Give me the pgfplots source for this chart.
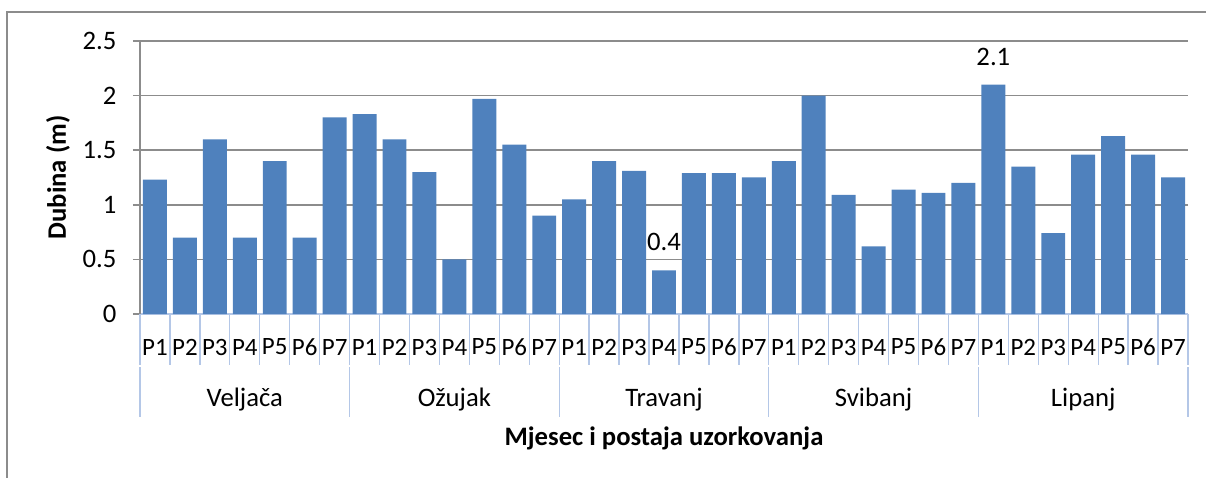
\documentclass[border=0pt]{standalone}
\usepackage{fontspec}
\setmainfont{Carlito}
\usepackage{pgfplots}
\pgfplotsset{compat=1.18}
\definecolor{barblue}{HTML}{4F81BD}
\definecolor{gridgray}{HTML}{8C8C8C}
\definecolor{sepblue}{HTML}{B4C7E7}
\newcommand{\cf}{\fontsize{20}{24}\selectfont}
\newcommand{\pf}{\fontsize{18.7}{22}\selectfont}
\begin{document}
\begin{tikzpicture}
\path[use as bounding box] (-105pt,-123pt) rectangle (799.5pt,235.5pt);
\draw[color=gray!90, line width=0.9pt] (-99.75pt,-124pt) -- (-99.75pt,226.5pt) -- (801pt,226.5pt);
\begin{axis}[
  at={(0pt,0pt)}, anchor=south west,
  scale only axis, width=786pt, height=204.75pt,
  xmin=0, xmax=35, ymin=0, ymax=2.5,
  enlargelimits=false, clip=false,
  ytick={0,0.5,1,1.5,2,2.5},
  yticklabels={0,0.5,1,1.5,2,2.5},
  xtick={0.5,1.5,...,34.5},
  xticklabels={P1,P2,P3,P4,P5,P6,P7,P1,P2,P3,P4,P5,P6,P7,P1,P2,P3,P4,P5,P6,P7,P1,P2,P3,P4,P5,P6,P7,P1,P2,P3,P4,P5,P6,P7},
  ymajorgrids, grid style={gridgray, line width=1.1pt},
  axis x line*=bottom, axis y line*=left,
  x axis line style={sepblue, line width=1.1pt, -},
  y axis line style={gridgray, line width=1.1pt, -},
  xtick style={draw=none},
  ytick style={gridgray, line width=1.1pt},
  tick align=outside, major tick length=5.25pt,
  tick label style={font=\cf},
  xticklabel style={anchor=center, yshift=-19.5pt, font=\pf},
  yticklabel style={anchor=east, xshift=-9pt},
  xlabel={Mjesec i postaja uzorkovanja},
  ylabel={Dubina (m)},
  every axis x label/.style={at={(axis description cs:0.5,0)}, anchor=center, yshift=-93pt, font=\cf\bfseries},
  every axis y label/.style={at={(axis description cs:-0.0782,0.5)}, rotate=90, anchor=center, font=\cf\bfseries},
]
\addplot[ybar, bar width=0.8, bar shift=0pt, fill=barblue, draw=none] coordinates {
(0.5,1.23) (1.5,0.70) (2.5,1.60) (3.5,0.70) (4.5,1.40) (5.5,0.70) (6.5,1.80)
(7.5,1.83) (8.5,1.60) (9.5,1.30) (10.5,0.50) (11.5,1.97) (12.5,1.55) (13.5,0.90)
(14.5,1.05) (15.5,1.40) (16.5,1.31) (17.5,0.40) (18.5,1.29) (19.5,1.29) (20.5,1.25)
(21.5,1.40) (22.5,2.00) (23.5,1.09) (24.5,0.62) (25.5,1.14) (26.5,1.11) (27.5,1.20)
(28.5,2.10) (29.5,1.35) (30.5,0.74) (31.5,1.46) (32.5,1.63) (33.5,1.46) (34.5,1.25)
};
\addplot[draw=none, mark=none, nodes near coords, point meta=explicit symbolic,
  nodes near coords style={font=\cf, anchor=center, yshift=21pt}]
  coordinates {(17.5,0.4) [0.4] (28.5,2.1) [2.1]};
\pgfplotsinvokeforeach{0,...,35}{\draw[sepblue, line width=1pt] (axis cs:#1,0) -- ++(0pt,-38.25pt);}
\pgfplotsinvokeforeach{0,7,14,21,28,35}{\draw[sepblue, line width=1pt] (axis cs:#1,0) ++(0pt,-39.75pt) -- ++(0pt,-37.5pt);}
\node[font=\cf] at (axis cs:3.5,0) [yshift=-64.5pt] {Veljača};
\node[font=\cf] at (axis cs:10.5,0) [yshift=-64.5pt] {Ožujak};
\node[font=\cf] at (axis cs:17.5,0) [yshift=-64.5pt] {Travanj};
\node[font=\cf] at (axis cs:24.5,0) [yshift=-64.5pt] {Svibanj};
\node[font=\cf] at (axis cs:31.5,0) [yshift=-64.5pt] {Lipanj};
\end{axis}
\end{tikzpicture}
\end{document}
